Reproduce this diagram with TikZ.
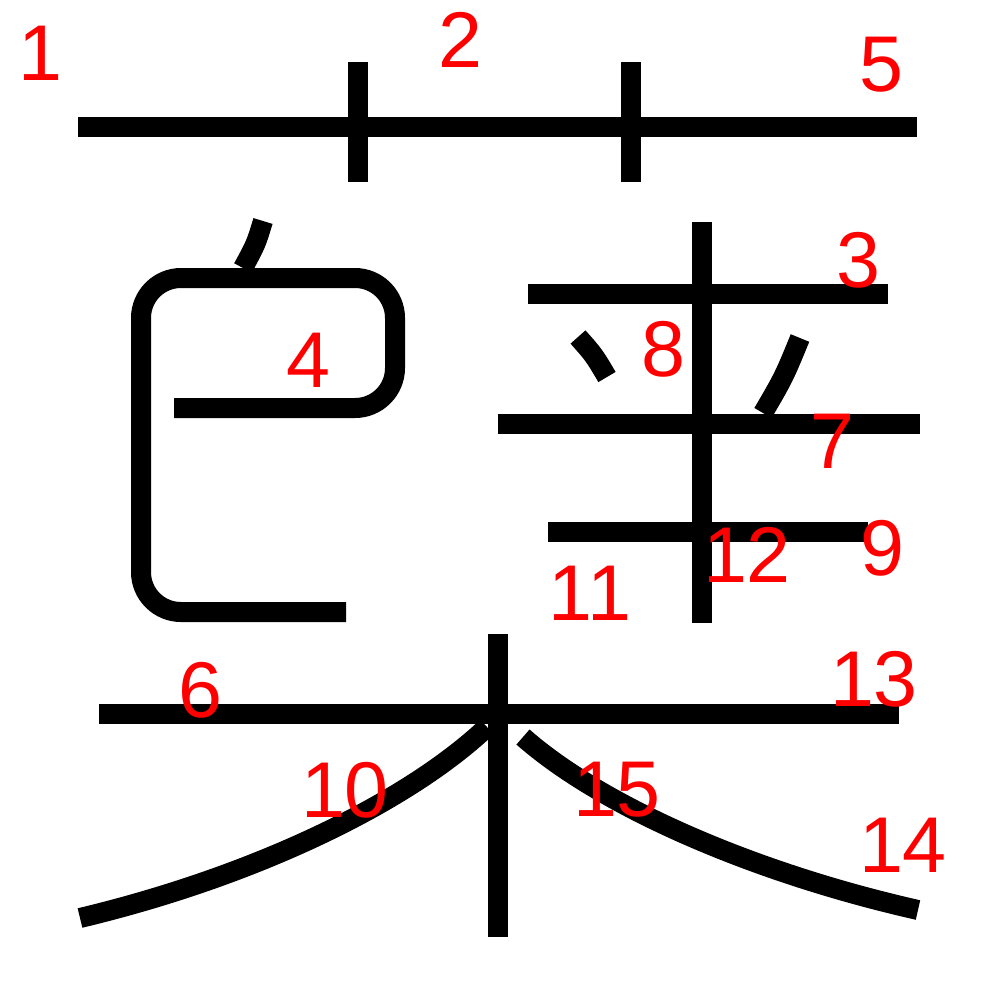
\documentclass[tikz,border=0pt]{standalone}
\usepackage{fontspec}
\setmainfont{Liberation Sans}
\tikzset{brush/.style={line width=2mm},
  num/.style={text=red,inner sep=0pt,font=\fontsize{22.5}{26}\selectfont}}

\begin{document}
\begin{tikzpicture}[x=0.1mm,y=-0.1mm]
\useasboundingbox (0,0) rectangle (1000,1000);
% top bar with two short uprights
\draw[brush] (78,127)--(917,127)
(358,62)--(358,182)
(631,62)--(631,182);
% left part
\draw[brush] (263,221) .. controls (256,244) .. (243,268);
\draw[brush,rounded corners=4mm] (174,408) -| (395,278) -| (141,612) -- (346,612);
% right part
\draw[brush] (702,222)--(702,623)
(528,294)--(888,294)
(498,424)--(920,424)
(548,532)--(868,532);
\draw[brush] (578,337) .. controls (594,355) .. (607,377);
\draw[brush] (800,338) .. controls (784,377) .. (763,413);
% bottom part
\draw[brush] (99,714)--(899,714)
(498,634)--(498,937);
\draw[brush] (487,727) .. controls (410,800) and (260,875) .. (80,918);
%(523,737)--(918,910);
\draw[brush] (523,737) .. controls (600,805) and (750,872) .. (918,910);
% stroke numbers
\node[num] (n1) at (40,53) {1};
\node[num] (n2) at (460,40) {2};
\node[num] (n3) at (858,260) {3};
\node[num] (n4) at (308,360) {4};
\node[num] (n5) at (881,65) {5};
\node[num] (n6) at (200,690) {6};
\node[num] (n7) at (832,441) {7};
\node[num] (n8) at (663,349) {8};
\node[num] (n9) at (882,548) {9};
\node[num] (n10) at (345,790) {10};
\node[num] (n11) at (590,593) {11};
\node[num] (n12) at (747,555) {12};
\node[num] (n13) at (874,679) {13};
\node[num] (n14) at (903,845) {14};
\node[num] (n15) at (617,790) {15};
\end{tikzpicture}
\end{document}
